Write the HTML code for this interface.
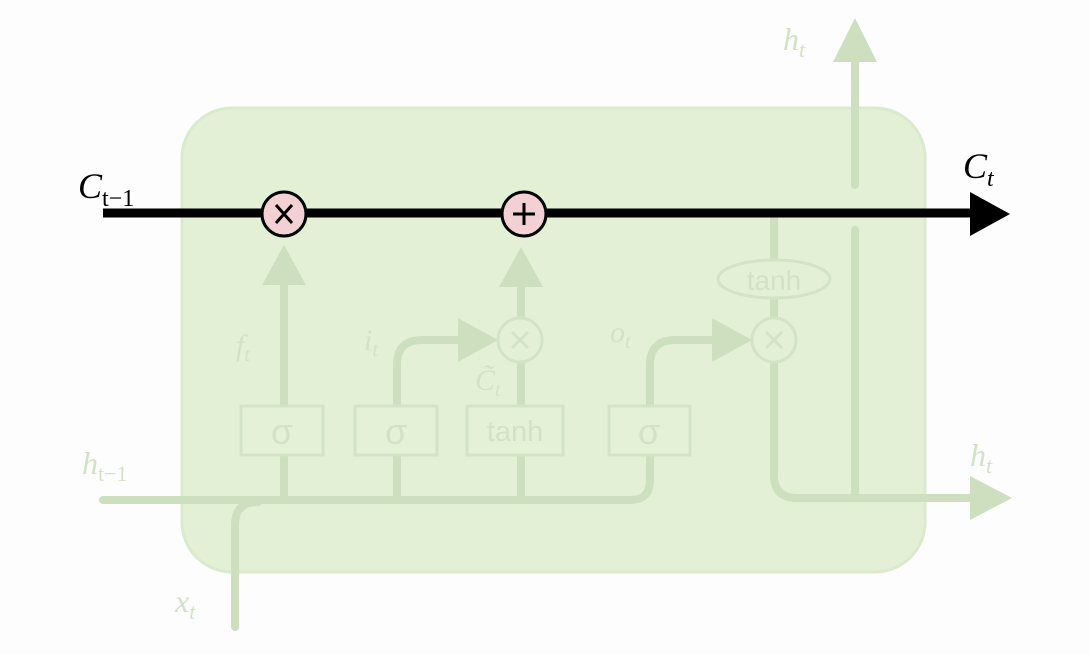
<!DOCTYPE html>
<html><head><meta charset="utf-8"><style>
html,body{margin:0;padding:0;background:#fdfdfd;}
svg{display:block;}
.f{fill:none;stroke:#cddfbf;stroke-width:8;stroke-linecap:round;stroke-linejoin:round;}
.fa{fill:#cddfbf;}
.ft{fill:#d3e1c8;font-family:"Liberation Serif",serif;font-style:italic;}
.gt{fill:#d3e2c7;font-family:"Liberation Sans",sans-serif;}
.lb{font-family:"Liberation Serif",serif;font-style:italic;fill:#000;}
</style></head><body>
<svg width="1090" height="654" viewBox="0 0 1090 654">
<rect x="182" y="108" width="743" height="464" rx="50" fill="#e3f0d5" stroke="#dbeacc" stroke-width="3"/>
<path class="f" d="M103 500 H630 Q650 500 650 480 V455"/>
<path class="f" d="M235 627 V525 Q235 502 258 502"/>
<path class="f" d="M284 500 V285"/>
<polygon class="fa" points="262,285 306,285 284,245"/>
<path class="f" d="M397 500 V455 M397 405 V365 Q397 340 422 340 H462"/>
<polygon class="fa" points="458,318 458,362 498,340"/>
<path class="f" d="M521 500 V455 M521 405 V362 M521 318 V285"/>
<polygon class="fa" points="499,287 543,287 521,247"/>
<g><circle cx="520" cy="340" r="22" fill="#e3f0d5" stroke="#d3e3c6" stroke-width="3"/><path d="M512 332 L528 348 M528 332 L512 348" stroke="#d3e3c6" stroke-width="3"/></g>
<path class="f" d="M650 405 V365 Q650 340 675 340 H715"/>
<polygon class="fa" points="712,318 712,362 752,340"/>
<path class="f" d="M774 218 V260 M774 298 V318 M774 362 V475 Q774 498 797 498 H975"/>
<polygon class="fa" points="970,476 970,520 1012,498"/>
<ellipse cx="774" cy="279" rx="56" ry="19" fill="#e3f0d5" stroke="#d3e3c6" stroke-width="3"/>
<text x="774" y="290" text-anchor="middle" class="gt" font-size="28">tanh</text>
<g><circle cx="774" cy="340" r="22" fill="#e3f0d5" stroke="#d3e3c6" stroke-width="3"/><path d="M766 332 L782 348 M782 332 L766 348" stroke="#d3e3c6" stroke-width="3"/></g>
<path class="f" d="M855 495 V230 M855 185 V60"/>
<polygon class="fa" points="833,62 877,62 855,18"/>
<g><rect x="241" y="406" width="82" height="49" fill="#e4f1d6" stroke="#d3e3c6" stroke-width="3"/><text x="282" y="444" text-anchor="middle" class="gt" font-size="36">σ</text></g>
<g><rect x="355" y="406" width="82" height="49" fill="#e4f1d6" stroke="#d3e3c6" stroke-width="3"/><text x="396" y="444" text-anchor="middle" class="gt" font-size="36">σ</text></g>
<g><rect x="467" y="406" width="96" height="49" fill="#e4f1d6" stroke="#d3e3c6" stroke-width="3"/><text x="515" y="441" text-anchor="middle" class="gt" font-size="29">tanh</text></g>
<g><rect x="609" y="406" width="81" height="49" fill="#e4f1d6" stroke="#d3e3c6" stroke-width="3"/><text x="649" y="444" text-anchor="middle" class="gt" font-size="36">σ</text></g>
<text x="236" y="355" class="ft" font-size="30">f<tspan font-size="20" dy="6">t</tspan></text>
<text x="364" y="350" class="ft" font-size="30">i<tspan font-size="20" dy="6">t</tspan></text>
<text x="475" y="390" class="ft" font-size="30">C̃<tspan font-size="20" dy="6">t</tspan></text>
<text x="610" y="342" class="ft" font-size="30">o<tspan font-size="20" dy="6">t</tspan></text>
<text x="783" y="50" class="ft" font-size="32">h<tspan font-size="22" dy="7">t</tspan></text>
<text x="82" y="474" class="ft" font-size="32">h<tspan font-size="22" dy="7" font-style="normal">t−1</tspan></text>
<text x="970" y="466" class="ft" font-size="32">h<tspan font-size="22" dy="7">t</tspan></text>
<text x="175" y="612" class="ft" font-size="32">x<tspan font-size="22" dy="7">t</tspan></text>
<line x1="103" y1="213" x2="975" y2="213" stroke="#000" stroke-width="9"/>
<polygon points="970,192 970,236 1010,214" fill="#000"/>
<g><circle cx="284" cy="214" r="22" fill="#f2d0d4" stroke="#000" stroke-width="3"/><path d="M276 205 L292 223 M292 205 L276 223" stroke="#000" stroke-width="3"/></g>
<g><circle cx="524" cy="214" r="22" fill="#f2d0d4" stroke="#000" stroke-width="3"/><path d="M524 203 V225 M513 214 H535" stroke="#000" stroke-width="3"/></g>
<text x="78" y="198" class="lb" font-size="36">C<tspan font-size="24" dy="8" font-style="normal">t−1</tspan></text>
<text x="963" y="178" class="lb" font-size="36">C<tspan font-size="24" dy="8">t</tspan></text>
</svg>
</body></html>
